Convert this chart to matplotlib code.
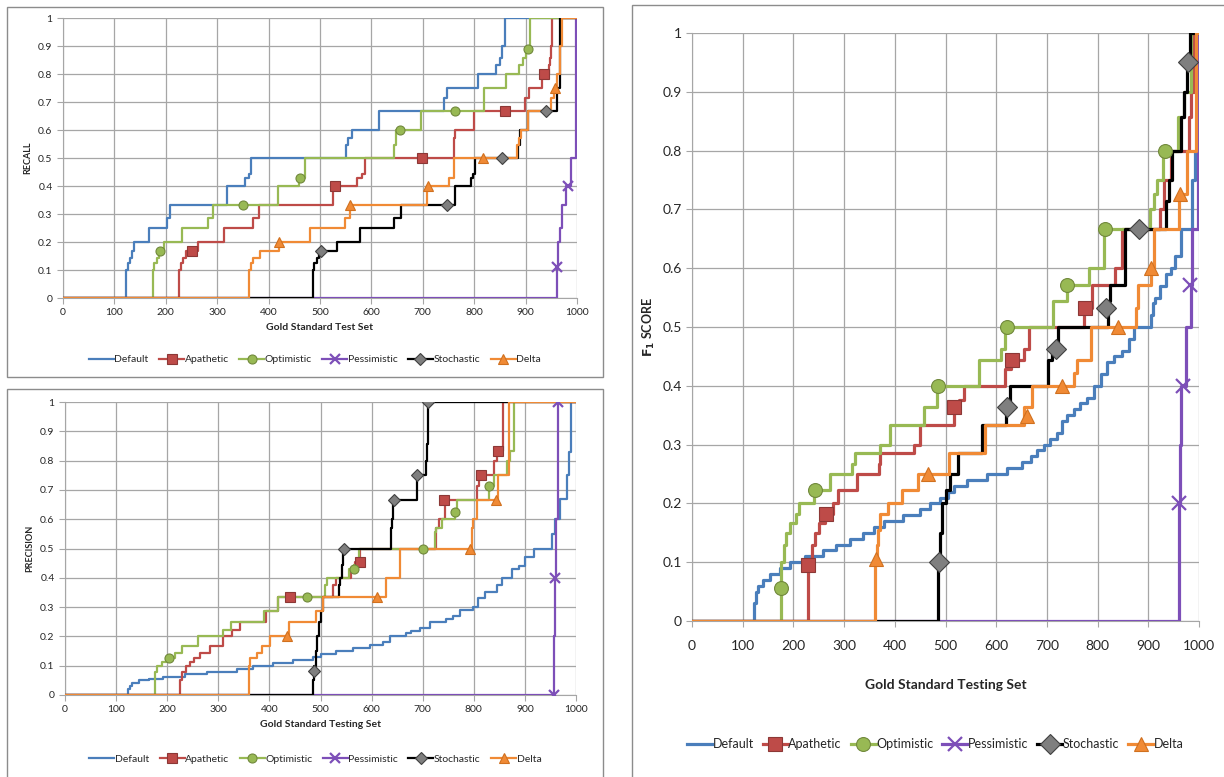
import numpy as np
import matplotlib
matplotlib.use('Agg')
import matplotlib.pyplot as plt
from matplotlib.patches import Rectangle

plt.rcParams['font.family'] = ['Lato', 'DejaVu Sans']

series_names = ['Default', 'Apathetic', 'Optimistic', 'Pessimistic', 'Stochastic', 'Delta']
line_colors = ['#4A7EBB', '#BE4B48', '#98B954', '#7D4FB8', '#000000', '#F08A35']
marker_shapes = [None, 's', 'o', 'x', 'D', '^']
marker_faces = [None, '#BE4B48', '#98B954', '#7D4FB8', '#7F7F7F', '#F08A35']
marker_edges = [None, '#8C3836', '#71893C', '#7D4FB8', '#404040', '#D0701F']

x_ticks = [0, 100, 200, 300, 400, 500, 600, 700, 800, 900, 1000]
y_ticks = [0, 0.1, 0.2, 0.3, 0.4, 0.5, 0.6, 0.7, 0.8, 0.9, 1]

# ---- recall (step points: x where the value starts, value) ----
rec_default = [(0, 0), (123, 0.1), (126, 0.125), (130, 0.143), (134, 0.167), (139, 0.2), (167, 0.25), (203, 0.286),
               (209, 0.333), (319, 0.4), (355, 0.429), (362, 0.444), (366, 0.5), (551, 0.545), (555, 0.571), (563, 0.6),
               (614, 0.667), (741, 0.714), (748, 0.75), (807, 0.8), (842, 0.833), (851, 0.857), (855, 0.9), (860, 1.0),
               (1000, 1.0)]
rec_apathetic = [(0, 0), (225, 0.1), (229, 0.125), (234, 0.143), (240, 0.167), (263, 0.2), (313, 0.25), (370, 0.286),
                 (381, 0.333), (525, 0.4), (572, 0.429), (581, 0.444), (588, 0.5), (760, 0.571), (763, 0.6), (799, 0.667),
                 (898, 0.714), (906, 0.75), (931, 0.8), (945, 0.833), (948, 0.857), (950, 0.9), (952, 1.0), (1000, 1.0)]
rec_optimistic = [(0, 0), (175, 0.1), (178, 0.125), (182, 0.143), (186, 0.167), (197, 0.2), (231, 0.25), (283, 0.286),
                  (292, 0.333), (418, 0.4), (460, 0.429), (471, 0.5), (643, 0.545), (647, 0.6), (697, 0.667), (820, 0.75),
                  (862, 0.8), (888, 0.833), (895, 0.857), (900, 0.889), (908, 1.0), (1000, 1.0)]
rec_pessimistic = [(0, 0), (962, 0.111), (964, 0.2), (966, 0.25), (970, 0.333), (979, 0.4), (988, 0.5), (999, 1.0),
                   (1000, 1.0)]
rec_stochastic = [(0, 0), (486, 0.1), (489, 0.125), (494, 0.143), (498, 0.167), (533, 0.2), (577, 0.25), (643, 0.286),
                  (657, 0.333), (762, 0.4), (794, 0.429), (797, 0.444), (801, 0.5), (886, 0.545), (890, 0.6),
                  (904, 0.667), (962, 0.75), (966, 1.0), (1000, 1.0)]
rec_delta = [(0, 0), (361, 0.1), (365, 0.125), (370, 0.143), (383, 0.167), (420, 0.2), (481, 0.25), (549, 0.286),
             (559, 0.333), (709, 0.4), (751, 0.429), (761, 0.5), (883, 0.545), (887, 0.571), (891, 0.6), (904, 0.667),
             (950, 0.714), (955, 0.75), (962, 0.8), (966, 0.9), (970, 1.0), (1000, 1.0)]
rec_apathetic_mk = [(250, 0.167), (529, 0.4), (699, 0.5), (860, 0.667), (936, 0.8)]
rec_optimistic_mk = [(189, 0.167), (351, 0.333), (462, 0.429), (655, 0.6), (762, 0.667), (904, 0.889)]
rec_pessimistic_mk = [(962, 0.111), (983, 0.4)]
rec_stochastic_mk = [(502, 0.167), (748, 0.333), (855, 0.5), (939, 0.667)]
rec_delta_mk = [(421, 0.2), (559, 0.333), (711, 0.4), (818, 0.5), (957, 0.75)]

# ---- precision ----
prec_default = [(0, 0), (124, 0.02), (127, 0.03), (132, 0.04), (145, 0.05), (165, 0.055), (192, 0.06), (235, 0.07),
                (277, 0.08), (336, 0.09), (368, 0.1), (407, 0.11), (446, 0.12), (486, 0.13), (500, 0.14), (530, 0.15),
                (564, 0.16), (596, 0.17), (623, 0.18), (636, 0.2), (668, 0.21), (678, 0.22), (695, 0.23), (714, 0.25),
                (745, 0.26), (760, 0.27), (773, 0.29), (799, 0.3), (809, 0.33), (822, 0.35), (845, 0.375), (855, 0.4),
                (875, 0.43), (888, 0.44), (900, 0.47), (917, 0.5), (953, 0.55), (959, 0.6), (969, 0.67), (982, 0.75),
                (986, 0.83), (990, 1.0), (1000, 1.0)]
prec_apathetic = [(0, 0), (226, 0.05), (229, 0.08), (236, 0.1), (245, 0.111), (252, 0.125), (264, 0.143), (284, 0.167),
                  (310, 0.2), (326, 0.222), (342, 0.25), (394, 0.286), (416, 0.333), (524, 0.375), (530, 0.4),
                  (560, 0.429), (568, 0.455), (577, 0.5), (727, 0.571), (731, 0.6), (744, 0.667), (806, 0.714),
                  (811, 0.75), (839, 0.8), (845, 0.833), (857, 1.0), (1000, 1.0)]
prec_optimistic = [(0, 0), (177, 0.08), (180, 0.1), (190, 0.111), (198, 0.125), (215, 0.143), (228, 0.167), (261, 0.2),
                   (309, 0.222), (325, 0.25), (390, 0.286), (417, 0.333), (509, 0.375), (513, 0.4), (556, 0.429),
                   (566, 0.444), (576, 0.5), (724, 0.556), (727, 0.571), (737, 0.6), (763, 0.625), (768, 0.667),
                   (829, 0.714), (839, 0.75), (865, 0.8), (871, 0.833), (879, 1.0), (1000, 1.0)]
prec_pessimistic = [(0, 0), (956, 0.2), (958, 0.4), (961, 0.6), (964, 1.0), (1000, 1.0)]
prec_stochastic = [(0, 0), (486, 0.05), (488, 0.1), (491, 0.15), (494, 0.2), (497, 0.25), (500, 0.286), (504, 0.333),
                   (536, 0.375), (538, 0.4), (543, 0.444), (545, 0.5), (637, 0.571), (639, 0.6), (642, 0.667),
                   (688, 0.75), (706, 0.8), (709, 0.857), (711, 1.0), (1000, 1.0)]
prec_delta = [(0, 0), (360, 0.1), (362, 0.125), (375, 0.143), (385, 0.167), (401, 0.2), (439, 0.25), (492, 0.286),
              (505, 0.333), (628, 0.4), (656, 0.5), (796, 0.571), (798, 0.6), (806, 0.667), (848, 0.75), (868, 1.0),
              (1000, 1.0)]
prec_apathetic_mk = [(440, 0.333), (577, 0.455), (742, 0.667), (814, 0.75), (848, 0.833)]
prec_optimistic_mk = [(203, 0.125), (473, 0.333), (566, 0.43), (701, 0.5), (763, 0.625), (829, 0.714)]
prec_pessimistic_mk = [(956, 0.0), (958, 0.4), (964, 1.0)]
prec_stochastic_mk = [(487, 0.083), (546, 0.5), (644, 0.667), (688, 0.75), (711, 1.0)]
prec_delta_mk = [(435, 0.2), (610, 0.333), (792, 0.5), (844, 0.667)]

# ---- F1 score ----
f1_default = [(0, 0), (123, 0.03), (126, 0.05), (131, 0.06), (140, 0.07), (153, 0.08), (173, 0.09), (193, 0.1),
              (222, 0.11), (259, 0.12), (285, 0.13), (312, 0.14), (338, 0.15), (358, 0.16), (378, 0.17), (417, 0.18),
              (450, 0.19), (470, 0.2), (490, 0.21), (505, 0.22), (516, 0.23), (543, 0.24), (582, 0.25), (622, 0.26),
              (650, 0.27), (668, 0.28), (681, 0.29), (694, 0.3), (707, 0.31), (720, 0.32), (730, 0.34), (740, 0.35),
              (753, 0.36), (766, 0.37), (780, 0.38), (793, 0.4), (806, 0.42), (819, 0.44), (832, 0.45), (849, 0.46),
              (862, 0.48), (872, 0.5), (905, 0.52), (910, 0.54), (914, 0.55), (924, 0.57), (935, 0.59), (944, 0.6),
              (952, 0.62), (964, 0.667), (987, 0.75), (993, 0.8), (1000, 0.8)]
f1_apathetic = [(0, 0), (228, 0.1), (236, 0.13), (242, 0.15), (250, 0.167), (262, 0.182), (279, 0.2), (288, 0.222),
                (325, 0.25), (368, 0.267), (371, 0.286), (437, 0.3), (450, 0.333), (516, 0.364), (526, 0.375),
                (536, 0.4), (618, 0.429), (630, 0.444), (655, 0.462), (664, 0.5), (773, 0.533), (789, 0.571),
                (835, 0.6), (849, 0.667), (924, 0.7), (930, 0.75), (944, 0.8), (980, 0.857), (985, 0.9), (990, 1.0),
                (1000, 1.0)]
f1_optimistic = [(0, 0), (176, 0.1), (181, 0.13), (185, 0.15), (193, 0.167), (205, 0.182), (212, 0.2), (240, 0.222),
                 (272, 0.25), (315, 0.267), (321, 0.286), (371, 0.3), (391, 0.333), (457, 0.364), (484, 0.4),
                 (566, 0.444), (609, 0.462), (618, 0.5), (712, 0.545), (739, 0.571), (783, 0.6), (812, 0.667),
                 (903, 0.7), (911, 0.727), (918, 0.75), (929, 0.8), (958, 0.857), (970, 0.9), (984, 1.0), (1000, 1.0)]
f1_pessimistic = [(0, 0), (960, 0.2), (962, 0.3), (965, 0.4), (975, 0.5), (984, 0.571), (987, 0.667), (998, 1.0),
                  (1000, 1.0)]
f1_stochastic = [(0, 0), (486, 0.1), (489, 0.15), (493, 0.2), (500, 0.222), (508, 0.25), (525, 0.286), (572, 0.333),
                 (620, 0.364), (628, 0.4), (702, 0.444), (710, 0.462), (722, 0.5), (820, 0.545), (825, 0.571),
                 (855, 0.667), (934, 0.714), (940, 0.75), (947, 0.8), (964, 0.857), (970, 0.9), (976, 0.95),
                 (982, 1.0), (1000, 1.0)]
f1_delta = [(0, 0), (361, 0.105), (364, 0.13), (367, 0.154), (371, 0.182), (387, 0.2), (414, 0.222), (445, 0.25),
            (506, 0.286), (577, 0.333), (655, 0.364), (671, 0.4), (753, 0.421), (760, 0.444), (786, 0.5),
            (875, 0.533), (880, 0.571), (905, 0.6), (912, 0.667), (960, 0.727), (976, 0.8), (995, 1.0), (1000, 1.0)]
f1_apathetic_mk = [(229, 0.095), (265, 0.182), (516, 0.364), (632, 0.444), (776, 0.533)]
f1_optimistic_mk = [(176, 0.056), (243, 0.222), (485, 0.4), (622, 0.5), (740, 0.571), (815, 0.667), (932, 0.8)]
f1_pessimistic_mk = [(960, 0.2), (968, 0.4), (983, 0.571)]
f1_stochastic_mk = [(487, 0.1), (622, 0.364), (718, 0.462), (817, 0.533), (882, 0.667), (978, 0.95)]
f1_delta_mk = [(362, 0.105), (465, 0.25), (660, 0.348), (730, 0.4), (840, 0.5), (906, 0.6), (962, 0.727)]

W, H = 1224, 777
fig = plt.figure(figsize=(W / 100, H / 100), dpi=100)


def px_axes(left, top, right, bottom):
    return fig.add_axes([left / W, 1 - bottom / H, (right - left) / W, (bottom - top) / H])


def px_box(left, top, right, bottom):
    fig.add_artist(Rectangle((left / W, 1 - bottom / H), (right - left) / W, (bottom - top) / H,
                             transform=fig.transFigure, fill=False, edgecolor='#8C8C8C', lw=1.0))


def draw_panel(ax, curves, marks, lw, ms, fs, ylabel, xlabel, legend_xy, legend_fs,
               xpad=3.5, labelpad=4, colspace=1.3, handlelen=2.4):
    handles = []
    for i, name in enumerate(series_names):
        pts = np.array(curves[i])
        mew = 1.6 if marker_shapes[i] == 'x' else 0.8
        ax.step(pts[:, 0], pts[:, 1], where='post', color=line_colors[i], lw=lw, zorder=3 + i)
        if marks[i] is not None:
            mk = np.array(marks[i])
            ax.plot(mk[:, 0], mk[:, 1], ls='none', marker=marker_shapes[i], ms=ms, mfc=marker_faces[i],
                    mec=marker_edges[i], mew=mew, zorder=10 + i)
        h, = ax.plot([], [], color=line_colors[i], lw=lw, marker=marker_shapes[i], ms=ms,
                     mfc=marker_faces[i], mec=marker_edges[i], mew=mew)
        handles.append(h)

    ax.set_xlim(0, 1000)
    ax.set_ylim(0, 1)
    ax.set_xticks(x_ticks)
    ax.set_yticks(y_ticks)
    ax.set_yticklabels(['%g' % v for v in y_ticks])
    ax.grid(True, color='#A6A6A6', lw=0.9)
    ax.set_axisbelow(True)
    for s in ['top', 'right']:
        ax.spines[s].set_visible(False)
    for s in ['left', 'bottom']:
        ax.spines[s].set_color('#A6A6A6')
    ax.tick_params(length=4, color='#A6A6A6', labelsize=fs, labelcolor='#262626')
    ax.tick_params(axis='x', pad=xpad)
    ax.set_xlabel(xlabel, fontsize=fs, fontweight='bold', color='#262626', labelpad=labelpad)
    ax.set_ylabel(ylabel, fontsize=fs - 1, fontweight='bold', color='#262626')
    leg = ax.legend(handles, series_names, loc='center', bbox_to_anchor=legend_xy, ncol=6, frameon=False,
                    fontsize=legend_fs, handlelength=handlelen, handletextpad=0.05, columnspacing=colspace)
    for t in leg.get_texts():
        t.set_color('#262626')


# recall
px_box(7, 7, 603, 377)
ax1 = px_axes(63, 18, 577, 298)
draw_panel(ax1, [rec_default, rec_apathetic, rec_optimistic, rec_pessimistic, rec_stochastic, rec_delta],
           [None, rec_apathetic_mk, rec_optimistic_mk, rec_pessimistic_mk, rec_stochastic_mk, rec_delta_mk],
           1.6, 6.5, 7.5, 'RECALL', 'Gold Standard Test Set', (0.49, -0.22), 7.5, colspace=1.0)

# precision
px_box(7, 389, 603, 790)
ax2 = px_axes(65, 402, 576, 695)
draw_panel(ax2, [prec_default, prec_apathetic, prec_optimistic, prec_pessimistic, prec_stochastic, prec_delta],
           [None, prec_apathetic_mk, prec_optimistic_mk, prec_pessimistic_mk, prec_stochastic_mk, prec_delta_mk],
           1.6, 6.5, 7.5, 'PRECISION', 'Gold Standard Testing Set', (0.49, -0.22), 7.5, colspace=1.0)

# F1
px_box(632, 5, 1240, 790)
ax3 = px_axes(692, 33, 1199, 621)
draw_panel(ax3, [f1_default, f1_apathetic, f1_optimistic, f1_pessimistic, f1_stochastic, f1_delta],
           [None, f1_apathetic_mk, f1_optimistic_mk, f1_pessimistic_mk, f1_stochastic_mk, f1_delta_mk],
           2.3, 10, 10, r'$\mathbf{F_1}$ SCORE', 'Gold Standard Testing Set', (0.48, -0.21), 9,
           xpad=10, labelpad=19, colspace=0.7, handlelen=2.0)

fig.savefig('out.png', dpi=100)
